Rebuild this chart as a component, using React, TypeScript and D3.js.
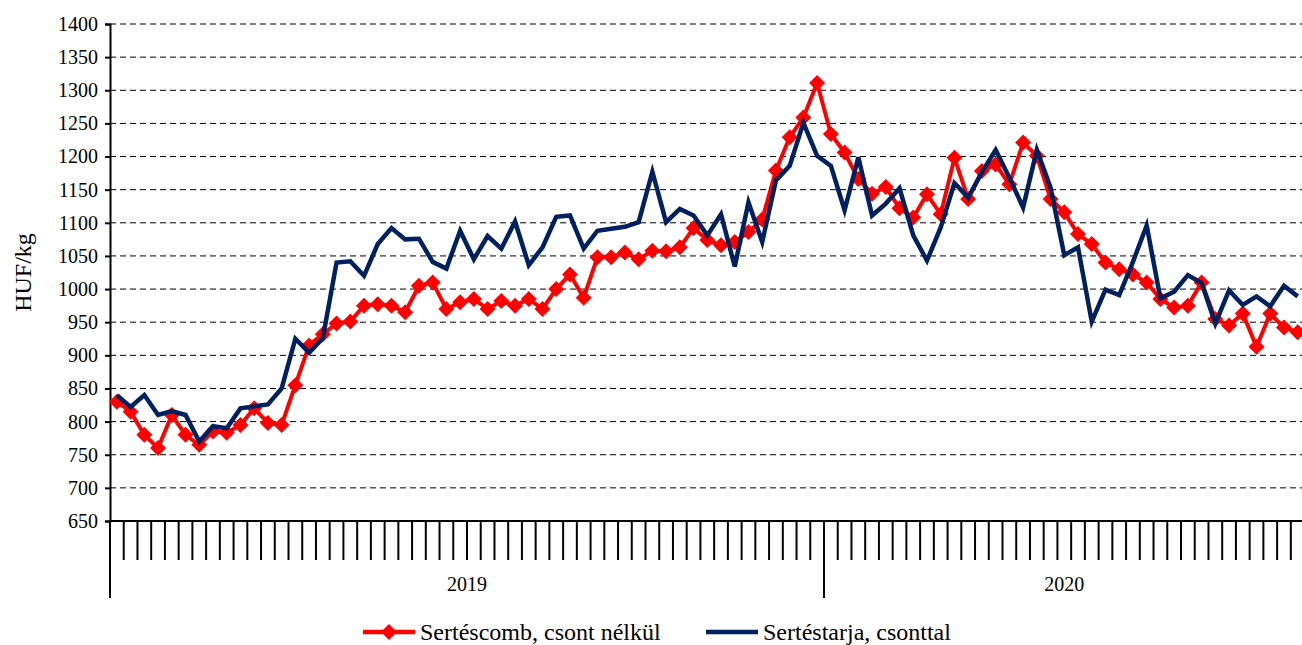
import * as d3 from 'd3';

import React, { useEffect, useRef } from 'react';

// weekly prices, HUF/kg
const years = ['2019', '2020'];
const weeksPerYear = [52, 35];

const hamBoneless = [
  830, 815, 780, 760, 810, 780, 765, 785, 783, 795, 820, 798, 795, 855,
  915, 932, 948, 951, 975, 977, 975, 965, 1005, 1010, 970, 980, 985, 970,
  982, 975, 985, 970, 1000, 1022, 987, 1048, 1048, 1055, 1045, 1058, 1057, 1063, 1092,
  1074, 1066, 1071, 1086, 1105, 1179, 1229, 1259, 1311, 1234, 1206, 1166, 1144, 1154, 1122,
  1108, 1143, 1113, 1198, 1136, 1178, 1188, 1158, 1221, 1201, 1136, 1116, 1083, 1068,
  1040, 1030, 1022, 1010, 985, 972, 975, 1010, 955, 945, 963, 913, 963, 942, 935,
];

const loinBoneIn = [
  840, 822, 840, 810, 816, 810, 770, 793, 790, 820, 823, 826, 850, 925,
  904, 926, 1040, 1042, 1020, 1068, 1092, 1075, 1076, 1041, 1031, 1088, 1045, 1080,
  1061, 1102, 1036, 1063, 1109, 1111, 1061, 1088, 1091, 1094, 1101, 1177, 1101, 1121, 1111,
  1081, 1113, 1034, 1131, 1071, 1164, 1186, 1251, 1201, 1186, 1119, 1199, 1111, 1129, 1152,
  1081, 1043, 1093, 1160, 1138, 1176, 1210, 1168, 1123, 1210, 1153, 1051, 1063, 951,
  999, 991, 1041, 1096, 986, 996, 1021, 1009, 948, 998, 976, 989, 974, 1005, 989,
];

const yTicks = d3.range(650, 1401, 50);

const seriesNames = ['Sertéscomb, csont nélkül', 'Sertéstarja, csonttal'];

const FONT = "'Liberation Serif', 'Times New Roman', Times, 'DejaVu Serif', serif";
const FS = 20;
const FS_BIG = 24;

export default function App() {
  const ref = useRef<SVGSVGElement>(null);

  useEffect(() => {
    const width = 1302;
    const height = 645;
    const left = 110;
    const top = 24;
    const bottom = 521;

    const weeks: string[] = [];
    years.forEach((y, yi) => {
      for (let w = 1; w <= weeksPerYear[yi]; w++) weeks.push(`${y}-${w}`);
    });

    const step = (824 - left) / weeksPerYear[0];
    const right = left + step * weeks.length;

    const svg = d3.select(ref.current).attr('width', width).attr('height', height);
    svg.selectAll('*').remove();

    const x = d3.scaleBand<string>().domain(weeks).range([left, right]);
    const y = d3.scaleLinear().domain([650, 1400]).range([bottom, top]);
    const cx = (d: string) => (x(d) ?? 0) + x.bandwidth() / 2;

    // grid
    svg
      .append('g')
      .selectAll('line')
      .data(yTicks.filter((t) => t > 650))
      .join('line')
      .attr('x1', left)
      .attr('x2', width)
      .attr('y1', (d) => y(d))
      .attr('y2', (d) => y(d))
      .attr('stroke', '#000')
      .attr('stroke-width', 1)
      .attr('stroke-dasharray', '6,4');

    // y axis
    const yAxis = d3.axisLeft(y).tickValues(yTicks).tickSize(5).tickFormat((d) => String(d));
    const yg = svg.append('g').attr('transform', `translate(${left},0)`).call(yAxis);
    yg.attr('font-family', null).attr('font-size', null);
    yg.select('.domain').attr('stroke-width', 2);
    yg.selectAll('.tick line').attr('stroke-width', 2);
    yg.selectAll('.tick text')
      .style('font-family', FONT)
      .style('font-size', `${FS}px`)
      .attr('fill', '#000')
      .attr('x', -12);

    // x axis: week ticks at category boundaries
    const bounds = weeks.map((w) => x(w) ?? 0).concat([right]);
    svg
      .append('g')
      .selectAll('line')
      .data(bounds)
      .join('line')
      .attr('x1', (d) => d)
      .attr('x2', (d) => d)
      .attr('y1', bottom)
      .attr('y2', bottom + 39)
      .attr('stroke', '#000')
      .attr('stroke-width', 2);

    // year dividers
    const yearStarts = [0, weeksPerYear[0]].map((i) => bounds[i]);
    svg
      .append('g')
      .selectAll('line')
      .data(yearStarts)
      .join('line')
      .attr('x1', (d) => d)
      .attr('x2', (d) => d)
      .attr('y1', bottom)
      .attr('y2', 598)
      .attr('stroke', '#000')
      .attr('stroke-width', 2);

    svg
      .append('line')
      .attr('x1', left)
      .attr('x2', width)
      .attr('y1', bottom)
      .attr('y2', bottom)
      .attr('stroke', '#000')
      .attr('stroke-width', 2);

    svg
      .append('g')
      .selectAll('text')
      .data(years)
      .join('text')
      .attr('x', (d, i) => {
        const a = i === 0 ? bounds[0] : bounds[weeksPerYear[0]];
        const b = i === 0 ? bounds[weeksPerYear[0]] : right;
        return (a + b) / 2;
      })
      .attr('y', 591)
      .attr('text-anchor', 'middle')
      .style('font-family', FONT)
      .style('font-size', `${FS}px`)
      .text((d) => d);

    svg
      .append('text')
      .attr('transform', `translate(31, ${(top + bottom) / 2}) rotate(-90)`)
      .attr('text-anchor', 'middle')
      .style('font-family', FONT)
      .style('font-size', `${FS_BIG}px`)
      .text('HUF/kg');

    const line = d3
      .line<number>()
      .x((_, i) => cx(weeks[i]))
      .y((d) => y(d));

    const diamond = (r: number) => `M0,${-r}L${r},0L0,${r}L${-r},0Z`;

    // red series with diamonds
    svg
      .append('path')
      .datum(hamBoneless)
      .attr('fill', 'none')
      .attr('stroke', '#ff0000')
      .attr('stroke-width', 4)
      .attr('stroke-linejoin', 'round')
      .attr('d', line);

    svg
      .append('g')
      .selectAll('path')
      .data(hamBoneless)
      .join('path')
      .attr('transform', (d, i) => `translate(${cx(weeks[i])},${y(d)})`)
      .attr('d', diamond(8))
      .attr('fill', '#ff0000');

    // navy series
    svg
      .append('path')
      .datum(loinBoneIn)
      .attr('fill', 'none')
      .attr('stroke', '#002060')
      .attr('stroke-width', 4.5)
      .attr('stroke-linejoin', 'miter')
      .attr('d', line);

    // legend
    const legend = svg.append('g');
    const legendX = [363, 706];
    const colors = ['#ff0000', '#002060'];
    seriesNames.forEach((name, i) => {
      const g = legend.append('g').attr('transform', `translate(${legendX[i]},632)`);
      g.append('line')
        .attr('x1', 0)
        .attr('x2', 52)
        .attr('stroke', colors[i])
        .attr('stroke-width', 4.5);
      if (i === 0) g.append('path').attr('transform', 'translate(26,0)').attr('d', diamond(8)).attr('fill', colors[i]);
      g.append('text')
        .attr('x', 57)
        .attr('y', 8)
        .style('font-family', FONT)
        .style('font-size', `${FS_BIG}px`)
        .text(name);
    });
  }, []);

  return <svg ref={ref} style={{ position: 'absolute', left: 0, top: 0, background: '#fff' }}></svg>;
}
